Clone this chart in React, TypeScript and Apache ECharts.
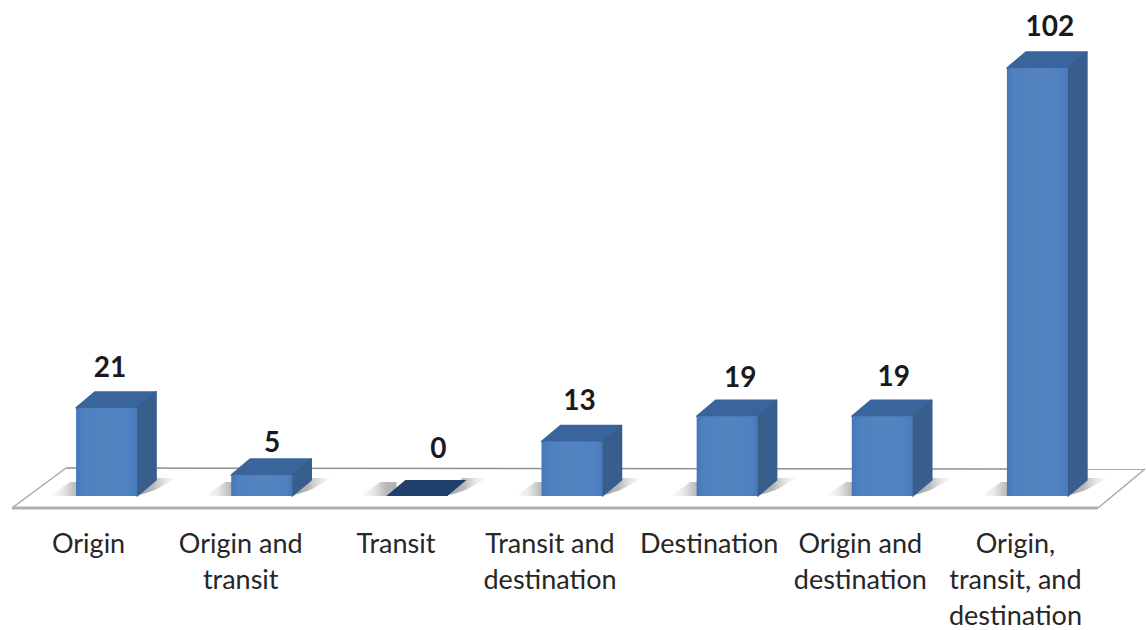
import React, { useEffect, useRef } from "react";
import * as echarts from "echarts";

const categories = [
  "Origin",
  "Origin and\ntransit",
  "Transit",
  "Transit and\ndestination",
  "Destination",
  "Origin and\ndestination",
  "Origin,\ntransit, and\ndestination",
];
const values = [21, 5, 0, 13, 19, 19, 102];

// styling only: per-label shifts of the tick and value labels
const tickShift = [-18, -21, -21, -22, -18, -22, -22];
const valueShift = [
  [-6, 3],
  [1, 11],
  [12, -4],
  [-2, 3],
  [3.5, 5],
  [2, 4],
  [3, 2],
];

const LEFT = 29, WIDTH = 1086, TOP = 68, BASE = 496;
const DX = 19, DY = 16;

function poly(points: number[][], fill: any, z = 0, rounded = false) {
  return {
    type: "polygon",
    shape: { points },
    style: rounded
      ? { fill, stroke: fill, lineWidth: 1.5, lineJoin: "round" }
      : { fill, stroke: null },
    z2: z,
  };
}
const hGrad = (stops: [number, string][]) =>
  new echarts.graphic.LinearGradient(0, 0, 1, 0, stops.map(([offset, color]) => ({ offset, color })));

function renderBar(params: any, api: any) {
  const i = api.value(0);
  const v = api.value(1);
  const [cx, y0] = api.coord([i, 0]);
  const [, yTop] = api.coord([i, v]);
  const w = 61;
  const l = cx - w / 2;
  const r = cx + w / 2;
  const children: any[] = [];

  // soft floor shadow under the bar
  children.push(
    poly(
      [[l - 26, y0], [l - 6, y0 - 14], [l + 10, y0 - 14], [l + 10, y0]],
      hGrad([
        [0, "rgba(125,125,125,0)"],
        [0.35, "rgba(135,135,135,0.18)"],
        [0.72, "rgba(125,125,125,0.55)"],
        [1, "rgba(125,125,125,0.6)"],
      ])
    ),
    poly(
      [[r - 4, y0], [r + DX - 4, y0 - DY - 2], [r + DX + 21, y0 - DY - 2], [r + 18, y0 - 6], [r + 6, y0 - 2]],
      hGrad([
        [0, "rgba(115,115,115,0.7)"],
        [0.45, "rgba(125,125,125,0.55)"],
        [0.72, "rgba(150,150,150,0.25)"],
        [1, "rgba(170,170,170,0)"],
      ])
    )
  );

  if (v === 0) {
    children.push(poly([[l, y0], [l + DX, y0 - DY], [r + DX, y0 - DY], [r, y0]], "#213f6b", 2));
  } else {
    children.push(
      poly([[l, yTop], [l + DX, yTop - DY], [r + DX, yTop - DY], [r, yTop]], "#3a659c", 2, true),
      poly([[r, yTop], [r + DX, yTop - DY], [r + DX, y0 - DY], [r, y0]], "#385e8d", 2, true),
      {
        type: "rect",
        shape: { x: l, y: yTop, width: w, height: y0 - yTop },
        style: {
          fill: hGrad([[0, "#4677b5"], [0.12, "#4f81bf"], [0.55, "#5484c0"], [0.9, "#4f81c0"], [1, "#4779b8"]]),
        },
        z2: 3,
      }
    );
  }

  children.push({
    type: "text",
    style: {
      text: String(v),
      x: (l + r + DX) / 2 + valueShift[i][0],
      y: yTop - DY - 29 + valueShift[i][1],
      align: "center",
      verticalAlign: "middle",
      fill: "#1a1a1a",
      font: "700 28px Lato",
    },
    z2: 5,
  });
  return { type: "group", children };
}

export default function App() {
  const ref = useRef<HTMLDivElement>(null);
  useEffect(() => {
    document.body.style.margin = "0";
    const chart = echarts.init(ref.current!, null, { renderer: "svg" });
    chart.setOption({
      animation: false,
      backgroundColor: "#ffffff",
      grid: {
        left: LEFT,
        width: WIDTH,
        top: TOP,
        bottom: 630 - BASE,
        containLabel: false,
        outerBoundsMode: "none",
      },
      xAxis: {
        type: "category",
        data: categories.map((value, i) => ({
          value,
          textStyle: { padding: [0, -2 * tickShift[i], 0, 0] },
        })),
        axisLine: { show: false },
        axisTick: { show: false },
        axisLabel: {
          interval: 0,
          margin: 28,
          fontFamily: "Lato",
          fontSize: 27,
          lineHeight: 36,
          color: "#262626",
          verticalAlign: "top",
        },
      },
      yAxis: { type: "value", min: 0, max: 102, show: false },
      graphic: [
        {
          type: "polygon",
          z: 0,
          shape: { points: [[66, 468], [12, 508], [1098, 508], [1145, 469]] },
          style: { fill: "#ffffff", stroke: null },
        },
        { type: "line", z: 1, shape: { x1: 66, y1: 468, x2: 1145, y2: 469 }, style: { stroke: "#8f8f8f", lineWidth: 1.5 } },
        { type: "line", z: 1, shape: { x1: 66, y1: 468, x2: 12, y2: 508 }, style: { stroke: "#a8a8a8", lineWidth: 1.5 } },
        { type: "line", z: 1, shape: { x1: 1098, y1: 508, x2: 1145, y2: 469 }, style: { stroke: "#a8a8a8", lineWidth: 1.5 } },
        { type: "line", z: 1, shape: { x1: 12, y1: 508, x2: 1098, y2: 508 }, style: { stroke: "#b0b0b0", lineWidth: 3 } },
      ],
      series: [
        {
          type: "custom",
          z: 5,
          clip: false,
          renderItem: renderBar,
          encode: { x: 0, y: 1 },
          data: values.map((v, i) => [i, v]),
        },
      ],
    });
    return () => chart.dispose();
  }, []);
  return <div ref={ref} style={{ width: 1146, height: 630 }} />;
}
